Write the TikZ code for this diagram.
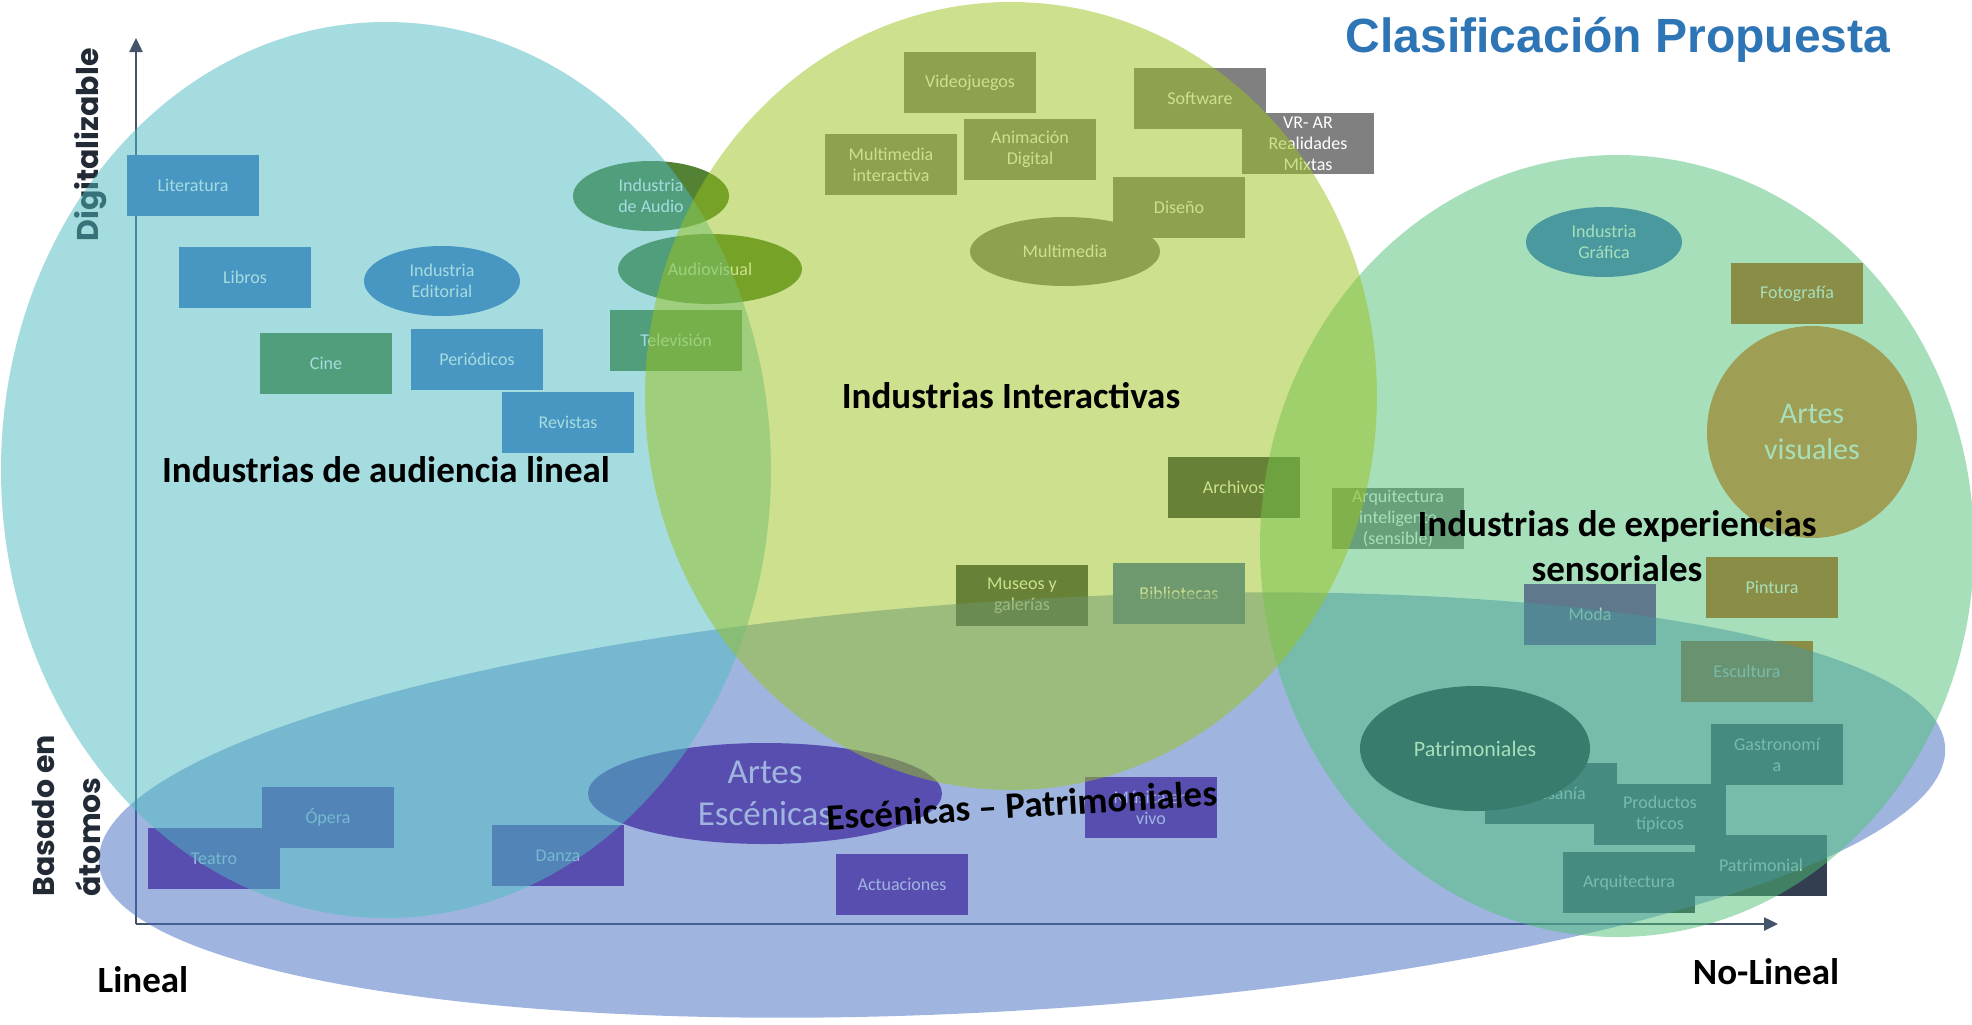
\documentclass[tikz,border=0pt]{standalone}
\usepackage{fontspec}
\setmainfont{Carlito}
\newfontfamily\titlefont{Liberation Sans}
\newfontfamily\ejefont{Poppins}
\usetikzlibrary{shapes.geometric,arrows.meta}
\definecolor{lincolor}{RGB}{77,187,193}
\definecolor{intcolor}{RGB}{155,195,29}
\definecolor{sencolor}{RGB}{81,193,121}
\definecolor{esccolor}{RGB}{65,109,193}
\definecolor{azul}{RGB}{68,114,196}
\definecolor{verde}{RGB}{84,130,53}
\definecolor{gris}{RGB}{128,128,128}
\definecolor{marino}{RGB}{51,63,80}
\definecolor{morado}{RGB}{112,48,160}
\definecolor{naranjao}{RGB}{197,90,17}
\definecolor{naranja}{RGB}{237,125,49}
\definecolor{azulo}{RGB}{32,56,100}
\definecolor{ejes}{RGB}{68,84,106}
\definecolor{ejenegro}{RGB}{34,42,53}
\definecolor{azultitulo}{RGB}{46,117,182}
\begin{document}
\begin{tikzpicture}[x=0.5pt,y=-0.5pt,
  caja/.style={rectangle,minimum width=66pt,minimum height=30.5pt,inner sep=0pt,text=white,align=center,font=\fontsize{9}{10.5}\selectfont},
  ovalo/.style={caja,ellipse,minimum width=78pt,minimum height=35pt},
  zona/.style={ellipse,inner sep=0pt,fill opacity=0.5},
  rotulo/.style={inner sep=0pt,align=center,font=\bfseries\fontsize{18.5}{22.5}\selectfont},
  eje/.style={draw=ejes,line width=1.25pt,-{Triangle[length=7pt,width=6.5pt]}},
  ejetexto/.style={inner sep=0pt,text=ejenegro,font=\ejefont\bfseries\fontsize{15}{23}\selectfont}]
\path[use as bounding box,fill=white] (0,0) rectangle (1972,1024);
% ejes
\coordinate (O) at (136,924);
\coordinate (Ytip) at (136,38);
\coordinate (Xtip) at (1778,924);
\draw[eje] (O) -- (Ytip);
\draw[eje] (O) -- (Xtip);
\node[ejetexto,rotate=90] (digital) at (91,145) {Digitalizable};
% bajo la elipse escenica
\node[caja,fill=morado] (teatro) at (214,858.5) {Teatro};
\node[caja,fill=morado] (opera) at (328,817.5) {Ópera};
\node[caja,fill=morado] (danza) at (558,855.5) {Danza};
\node[ovalo,fill=morado,minimum width=177pt,minimum height=50.5pt,inner sep=-3pt,font=\fontsize{17.5}{21}\selectfont] (artesesc) at (765,793.5) {Artes\\Escénicas};
\node[caja,fill=morado] (actuac) at (902,884.5) {Actuaciones};
\node[caja,fill=morado] (musica) at (1151,807.5) {Música en\\vivo};
\node[caja,fill=morado] (moda) at (1590,614) {Moda};
\node[caja,fill=marino] (museos) at (1022,595.5) {Museos y\\galerías};
\node[caja,fill=azul] (biblio) at (1179,593.5) {Bibliotecas};
\node[caja,fill=naranjao] (escult) at (1747,671) {Escultura};
\node[caja,fill=marino] (artesania) at (1551,793) {Artesanía};
\node[caja,fill=marino] (productos) at (1660,814.5) {Productos\\típicos};
\node[caja,fill=marino] (gastro) at (1777,754.5) {Gastronomí\\a};
\node[caja,fill=marino] (arquit) at (1629,882.5) {Arquitectura};
\node[caja,fill=marino] (patrimonial) at (1761,865.5) {Patrimonial};
\node[zona,fill=esccolor,minimum width=925pt,minimum height=205pt,rotate=3.6] (zesc) at (1022,805) {};
% resto de industrias
\node[caja,fill=azul] (lit) at (193,185.5) {Literatura};
\node[caja,fill=azul] (libros) at (245,277.5) {Libros};
\node[ovalo,fill=azul] (edit) at (442,281) {Industria\\Editorial};
\node[caja,fill=verde] (cine) at (326,363.5) {Cine};
\node[caja,fill=azul] (period) at (477,359.5) {Periódicos};
\node[caja,fill=azul] (revistas) at (568,422.5) {Revistas};
\node[ovalo,fill=verde] (audio) at (651,196) {Industria\\de Audio};
\node[ovalo,fill=verde,minimum width=92pt] (audiovis) at (710,269) {Audiovisual};
\node[caja,fill=verde] (tele) at (676,340.5) {Televisión};
\node[caja,fill=gris] (videoj) at (970,82.5) {Videojuegos};
\node[caja,fill=gris] (multint) at (891,164.5) {Multimedia\\interactiva};
\node[caja,fill=gris] (anim) at (1030,149.5) {Animación\\Digital};
\node[caja,fill=gris] (soft) at (1200,98.5) {Software};
\node[caja,fill=gris] (vrar) at (1308,143.5) {VR- AR\\Realidades\\Mixtas};
\node[ovalo,fill=gris,minimum width=95pt,minimum height=34.5pt] (multim) at (1065,251.5) {Multimedia};
\node[caja,fill=gris] (diseno) at (1179,207.5) {Diseño};
\node[caja,fill=marino] (archivos) at (1234,487.5) {Archivos};
\node[caja,fill=gris] (arqint) at (1398,518.5) {Arquitectura\\inteligente\\(sensible)};
\node[ovalo,fill=azul] (graf) at (1604,242) {Industria\\Gráfica};
\node[caja,fill=naranjao] (foto) at (1797,293.5) {Fotografía};
\node[ovalo,fill=naranja,minimum width=105pt,minimum height=106pt,font=\fontsize{15}{18}\selectfont] (artvis) at (1812,432) {Artes\\visuales};
\node[caja,fill=naranjao] (pintura) at (1772,587) {Pintura};
\node[ovalo,fill=azulo,minimum width=115pt,minimum height=62.5pt,font=\fontsize{11}{13}\selectfont] (patrims) at (1475,748.5) {Patrimoniales};
% zonas
\node[zona,fill=lincolor,minimum width=385pt,minimum height=448pt] (zlin) at (386,470) {};
\node[zona,fill=sencolor,minimum width=357pt,minimum height=391pt] (zsen) at (1617,546) {};
\node[zona,fill=intcolor,minimum width=366pt,minimum height=394pt] (zint) at (1011,396) {};
% rotulos
\node[rotulo] (tlin) at (zlin.center) {Industrias de audiencia lineal};
\node[rotulo] (tint) at (zint.center) {Industrias Interactivas};
\node[rotulo] (tsen) at (zsen.center) {Industrias de experiencias\\sensoriales};
\node[rotulo,rotate=3.6] (tesc) at (zesc.center) {Escénicas – Patrimoniales};
\node[rotulo] (lineal) at (143,980) {Lineal};
\node[rotulo] (nolineal) at (1766,972) {No-Lineal};
\node[ejetexto,rotate=90,anchor=west,align=left] (atomos) at (67,897) {Basado en\\átomos};
\node[anchor=base,text=azultitulo,font=\titlefont\bfseries\fontsize{24}{28}\selectfont] (titulo) at (1618,52) {Clasificación Propuesta};
\end{tikzpicture}
\end{document}
